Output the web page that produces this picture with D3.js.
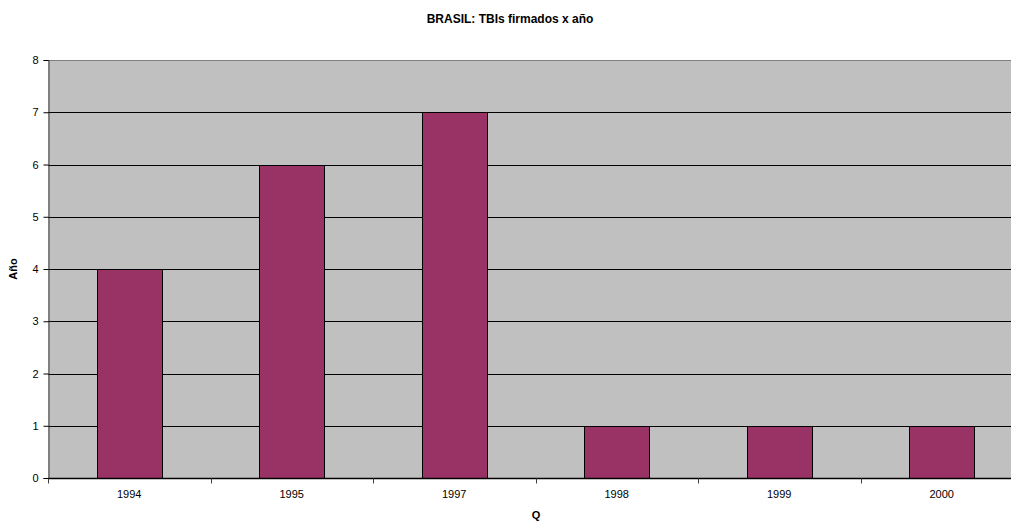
<!DOCTYPE html>
<html>
<head>
<meta charset="utf-8">
<script src="https://cdn.jsdelivr.net/npm/d3@7"></script>
<style>
  html, body { margin: 0; padding: 0; background: #fff; overflow: hidden; }
  svg { display: block; font-family: "Liberation Sans", Arial, sans-serif; }
</style>
</head>
<body>
<svg id="chart" width="1011" height="522"></svg>
<script>
// Bilateral investment treaties signed by Brazil, per year
const years = ["1994", "1995", "1997", "1998", "1999", "2000"];
const treaties = [4, 6, 7, 1, 1, 1];
const yTicks = [0, 1, 2, 3, 4, 5, 6, 7, 8];

const svg = d3.select("#chart");
const plot = { left: 48, top: 60, right: 1023, bottom: 478 };

const x = d3.scaleBand()
  .domain(years)
  .range([plot.left, plot.right])
  .paddingInner(0.6)
  .paddingOuter(0.3);

const y = d3.scaleLinear()
  .domain([0, 8])
  .range([plot.bottom, plot.top]);

// plot background
svg.append("rect")
  .attr("x", plot.left).attr("y", plot.top)
  .attr("width", plot.right - plot.left).attr("height", plot.bottom - plot.top)
  .attr("fill", "#c0c0c0");

// horizontal gridlines
svg.append("g")
  .selectAll("line")
  .data(yTicks.filter(d => d > 0 && d < 8))
  .join("line")
  .attr("x1", plot.left).attr("x2", plot.right)
  .attr("y1", d => Math.round(y(d)) + 0.5).attr("y2", d => Math.round(y(d)) + 0.5)
  .attr("stroke", "#000").attr("stroke-width", 1);

// top border of plot area
svg.append("line")
  .attr("x1", plot.left).attr("x2", plot.right)
  .attr("y1", plot.top + 0.5).attr("y2", plot.top + 0.5)
  .attr("stroke", "#808080").attr("stroke-width", 1);

// bars
svg.append("g")
  .selectAll("rect")
  .data(years.map((yr, i) => ({ yr, v: treaties[i] })))
  .join("rect")
  .attr("x", d => Math.round(x(d.yr)) + 0.5)
  .attr("y", d => Math.round(y(d.v)) + 0.5)
  .attr("width", Math.round(x.bandwidth()))
  .attr("height", d => Math.round(y(0)) - Math.round(y(d.v)))
  .attr("fill", "#993366")
  .attr("stroke", "#000").attr("stroke-width", 1);

// y axis
const yAxis = svg.append("g")
  .attr("transform", `translate(${plot.left + 0.5},0)`)
  .call(d3.axisLeft(y).tickValues(yTicks).tickSize(5).tickPadding(5).tickFormat(d3.format("d")));
yAxis.select(".domain").attr("stroke", "#404040");
yAxis.selectAll(".tick line").attr("stroke", "#000");
yAxis.selectAll("text").attr("font-size", 11).attr("fill", "#000")
  .attr("font-family", "'Liberation Sans', Arial, sans-serif");

// x axis, ticks placed between categories
const step = x.step();
const x0 = plot.left;
const boundaries = d3.range(years.length + 1).map(i => x0 + i * (plot.right - plot.left) / years.length);
const xAxis = svg.append("g")
  .attr("transform", `translate(0,${plot.bottom + 0.5})`);
xAxis.append("line")
  .attr("x1", plot.left).attr("x2", plot.right)
  .attr("stroke", "#000").attr("stroke-width", 1.5);
xAxis.selectAll("line.tk")
  .data(boundaries)
  .join("line").attr("class", "tk")
  .attr("x1", d => Math.round(d) + 0.5).attr("x2", d => Math.round(d) + 0.5)
  .attr("y1", 0).attr("y2", 5)
  .attr("stroke", "#404040");
xAxis.selectAll("text")
  .data(years)
  .join("text")
  .attr("x", d => x(d) + x.bandwidth() / 2)
  .attr("y", 19)
  .attr("text-anchor", "middle")
  .attr("font-size", 11)
  .text(d => d);

// title and axis titles
svg.append("text")
  .attr("x", 510).attr("y", 23)
  .attr("text-anchor", "middle")
  .attr("font-size", 12).attr("font-weight", "bold")
  .text("BRASIL: TBIs firmados x año");

svg.append("text")
  .attr("x", 536).attr("y", 519)
  .attr("text-anchor", "middle")
  .attr("font-size", 11).attr("font-weight", "bold")
  .text("Q");

svg.append("text")
  .attr("transform", `translate(17,269) rotate(-90)`)
  .attr("text-anchor", "middle")
  .attr("font-size", 11).attr("font-weight", "bold")
  .text("Año");
</script>
</body>
</html>
